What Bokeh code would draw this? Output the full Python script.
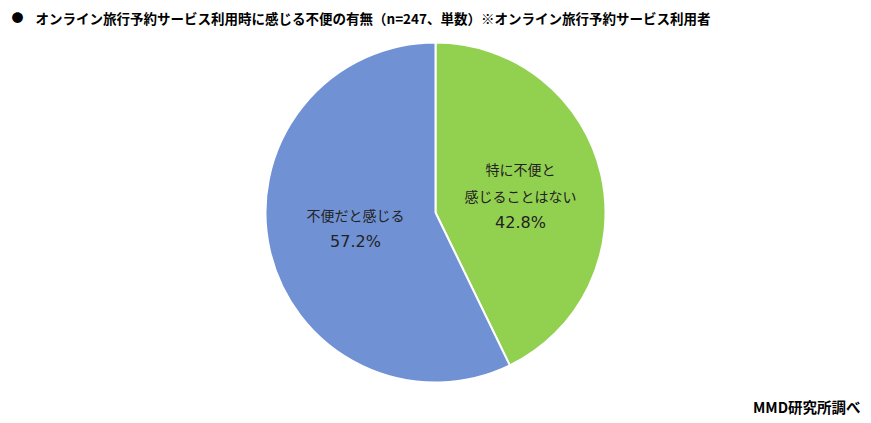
from math import radians
from bokeh.plotting import figure
from bokeh.models import Range1d, ColumnDataSource
from bokeh.core.properties import value
from bokeh.embed import file_html
from bokeh.resources import INLINE

title_text = "オンライン旅行予約サービス利用時に感じる不便の有無（n=247、単数）※オンライン旅行予約サービス利用者"
source_text = "MMD研究所調べ"
categories = ["特に不便と\n感じることはない", "不便だと感じる"]
shares = [42.8, 57.2]
colors = ["#92D050", "#7092D4"]

W, H = 866, 420
FONT = "Noto Sans CJK JP"

p = figure(width=W, height=H, output_backend="svg", toolbar_location=None,
           x_range=Range1d(0, W), y_range=Range1d(0, H), min_border=0)
p.axis.visible = False
p.grid.visible = False
p.outline_line_color = None

def fx(px):
    return px

def fy(py):
    return H - py

cx, cy, r = fx(435), fy(212), 170

# wedges: start at top, clockwise
starts, ends = [], []
a = 90.0
for s in shares:
    starts.append(radians(a))
    a -= s / 100 * 360
    ends.append(radians(a))

src = ColumnDataSource(dict(start=starts, end=ends, color=colors))
p.wedge(x=cx, y=cy, radius=r, start_angle="start", end_angle="end",
        direction="clock", fill_color="color", line_color="white", line_width=2,
        source=src)

# labels
lab_x = [fx(520), fx(355)]
lab_top = [fy(168), fy(214)]
line_h = 27
for i, (cat, sh) in enumerate(zip(categories, shares)):
    lines = cat.split("\n")
    for j, t in enumerate(lines):
        p.text(x=[lab_x[i]], y=[lab_top[i] - j * line_h], text=[t],
               text_font=value(FONT), text_font_size="14px",
               text_align="center", text_baseline="middle", text_color="#222222")
    p.text(x=[lab_x[i]], y=[lab_top[i] - len(lines) * line_h], text=[f"{sh:.1f}%"],
           text_font=value("DejaVu Sans"), text_font_size="16px",
           text_align="center", text_baseline="middle", text_color="#222222")

# title
p.text(x=[fx(11)], y=[fy(17)], text=["●"], text_font=value(FONT), text_font_size="12px",
       text_align="left", text_baseline="middle", text_color="#000000")
p.text(x=[fx(35)], y=[fy(17)], text=[title_text], text_font=value(FONT),
       text_font_size="13.5px", text_font_style="bold",
       text_align="left", text_baseline="middle", text_color="#000000")

# source
p.text(x=[fx(860)], y=[fy(406)], text=[source_text], text_font=value(FONT),
       text_font_size="14.5px", text_font_style="bold",
       text_align="right", text_baseline="middle", text_color="#000000")

open("out.html", "w").write(file_html(p, INLINE))
